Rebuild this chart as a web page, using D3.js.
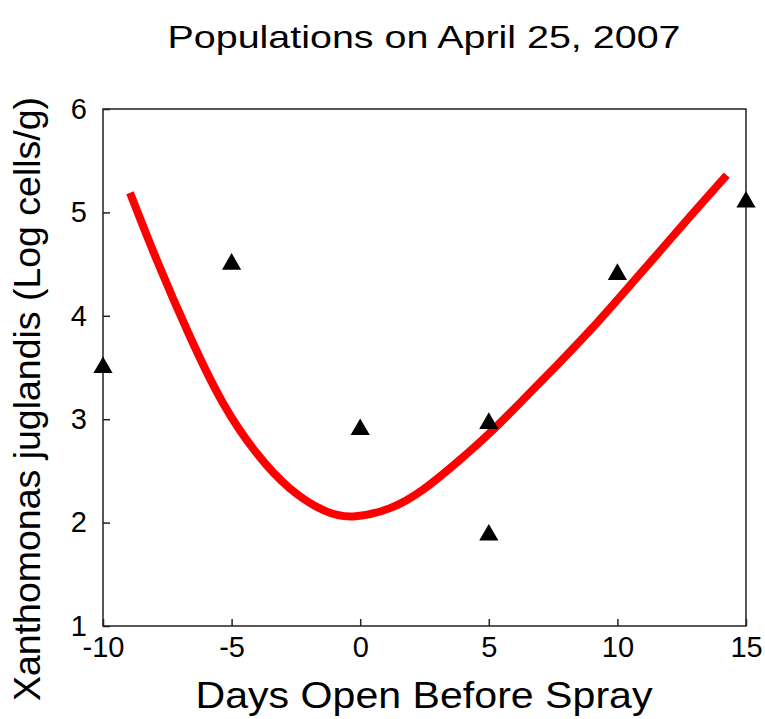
<!DOCTYPE html>
<html>
<head>
<meta charset="utf-8">
<script src="https://cdn.jsdelivr.net/npm/d3@7"></script>
<style>
  body { margin: 0; background: #fff; }
  text { font-family: "Liberation Sans", Arial, sans-serif; fill: #000; }
</style>
</head>
<body>
<script>
// observed populations (days open before spray, log cells/g)
const days = [-10, -5, 0, 5, 5, 10, 15]
const logCells = [3.5, 4.5, 2.9, 2.96, 1.88, 4.4, 5.1]

// fitted curve
const fitDays = [-8.95, -7.91, -6.62, -5.32, -4.02, -2.73, -1.43, -0.27, 1.16, 2.45, 3.75, 5.05, 6.34, 7.64, 8.94, 10.23, 11.53, 12.82, 14.25]
const fitLog = [5.19, 4.54, 3.8, 3.15, 2.67, 2.33, 2.12, 2.06, 2.14, 2.32, 2.58, 2.87, 3.19, 3.52, 3.86, 4.22, 4.59, 4.96, 5.36]

const xTicks = [-10, -5, 0, 5, 10, 15]
const yTicks = [1, 2, 3, 4, 5, 6]

const width = 765, height = 719
const margin = { top: 109, right: 19, bottom: 93, left: 103 }
const font = '"Liberation Sans", Arial, sans-serif'

const svg = d3.select("body").append("svg")
  .attr("width", width)
  .attr("height", height)

const x = d3.scaleLinear().domain([-10, 15]).range([margin.left, width - margin.right])
const y = d3.scaleLinear().domain([1, 6]).range([height - margin.bottom, margin.top])

// frame
svg.append("rect")
  .attr("x", x(-10)).attr("y", y(6))
  .attr("width", x(15) - x(-10)).attr("height", y(1) - y(6))
  .attr("fill", "none").attr("stroke", "#222").attr("stroke-width", 1.5)

// axes, ticks pointing inward
const xAxis = svg.append("g")
  .attr("transform", `translate(0,${y(1)})`)
  .call(d3.axisBottom(x).tickValues(xTicks).tickFormat(d => String(d))
    .tickSizeInner(-7).tickSizeOuter(0).tickPadding(10))
xAxis.select(".domain").remove()

const yAxis = svg.append("g")
  .attr("transform", `translate(${x(-10)},0)`)
  .call(d3.axisLeft(y).tickValues(yTicks).tickFormat(d => String(d))
    .tickSizeInner(-7).tickSizeOuter(0).tickPadding(16))
yAxis.select(".domain").remove()

svg.selectAll(".tick line").attr("stroke", "#222").attr("stroke-width", 1.5)
svg.selectAll(".tick text")
  .style("font-family", font)
  .style("font-size", "29px")
  .attr("fill", "#000")

// fitted curve
const line = d3.line()
  .x((d, i) => x(fitDays[i]))
  .y((d, i) => y(fitLog[i]))
  .curve(d3.curveNatural)

svg.append("path")
  .datum(fitDays)
  .attr("d", line)
  .attr("fill", "none")
  .attr("stroke", "#ff0000")
  .attr("stroke-width", 8)

// points
const tri = d3.symbol().type(d3.symbolTriangle).size(160)
svg.selectAll(".pt")
  .data(days)
  .enter().append("path")
    .attr("class", "pt")
    .attr("transform", (d, i) => `translate(${x(d)},${y(logCells[i])})`)
    .attr("d", tri)
    .attr("fill", "#000")

// titles
svg.append("text")
  .attr("x", 424).attr("y", 48)
  .attr("text-anchor", "middle")
  .attr("font-size", 32)
  .attr("textLength", 513).attr("lengthAdjust", "spacingAndGlyphs")
  .text("Populations on April 25, 2007")

svg.append("text")
  .attr("x", 424).attr("y", 708)
  .attr("text-anchor", "middle")
  .attr("font-size", 36)
  .attr("textLength", 457).attr("lengthAdjust", "spacingAndGlyphs")
  .text("Days Open Before Spray")

svg.append("text")
  .attr("transform", "translate(40,399) rotate(-90)")
  .attr("text-anchor", "middle")
  .attr("font-size", 36)
  .attr("textLength", 604).attr("lengthAdjust", "spacingAndGlyphs")
  .text("Xanthomonas juglandis (Log cells/g)")
</script>
</body>
</html>
